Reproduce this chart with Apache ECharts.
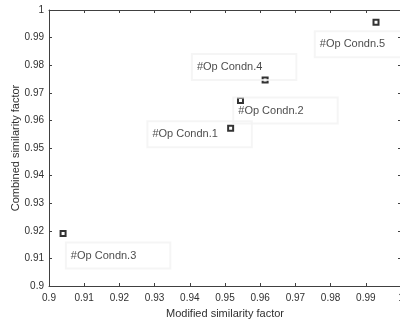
<!DOCTYPE html>
<html><head><meta charset="utf-8">
<script src="https://cdn.jsdelivr.net/npm/echarts@6/dist/echarts.min.js"></script>
<style>html,body{margin:0;padding:0;background:#fff}#c{width:400px;height:324px}</style>
</head><body><div id="c"></div>
<script>
var labels = ['#Op Condn.1', '#Op Condn.2', '#Op Condn.3', '#Op Condn.4', '#Op Condn.5'];
var modifiedSF = [0.9516, 0.9544, 0.9040, 0.9614, 0.9929];
var combinedSF = [0.9572, 0.9672, 0.9190, 0.9746, 0.9956];
var xTicks = { min: 0.9, max: 1, step: 0.01 };
var yTicks = { min: 0.9, max: 1, step: 0.01 };
var labelOffsets = [[-31, 6], [45, 10], [55, 22], [-21, -13], [-9, 22]];

var FONT = '"Liberation Sans", Arial, sans-serif';
var AX = '#404040';
var data = labels.map(function (n, i) {
  return {
    name: n,
    value: [modifiedSF[i], combinedSF[i]],
    label: { offset: labelOffsets[i] }
  };
});
function baseAxis(t) {
  return {
    type: 'value', min: t.min, max: t.max, interval: t.step,
    splitLine: { show: false },
    axisLine: { lineStyle: { color: AX, width: 1 } },
    axisTick: { inside: true, length: 3, lineStyle: { color: AX } },
    axisLabel: { color: '#303030', fontSize: 10, fontFamily: FONT }
  };
}
var x1 = baseAxis(xTicks);
x1.position = 'bottom';
x1.name = 'Modified similarity factor';
x1.nameLocation = 'middle';
x1.nameGap = 22;
x1.nameMoveOverlap = false;
x1.nameTextStyle = { color: '#303030', fontSize: 11, fontFamily: FONT };
x1.axisLabel.margin = 7;
var x2 = baseAxis(xTicks);
x2.position = 'top';
x2.axisLabel = { show: false };
var y1 = baseAxis(yTicks);
y1.position = 'left';
y1.name = 'Combined similarity factor';
y1.nameLocation = 'middle';
y1.nameGap = 28;
y1.nameMoveOverlap = false;
y1.nameTextStyle = { color: '#303030', fontSize: 11, fontFamily: FONT };
y1.axisLabel.margin = 5;
var y2 = baseAxis(yTicks);
y2.position = 'right';
y2.axisLabel = { show: false };

var chart = echarts.init(document.getElementById('c'), null, { renderer: 'canvas' });
chart.setOption({
  animation: false,
  backgroundColor: '#ffffff',
  grid: { left: 49, right: -1, top: 10, bottom: 38, containLabel: false, outerBoundsMode: 'none' },
  xAxis: [x1, x2],
  yAxis: [y1, y2],
  series: [{
    type: 'scatter',
    xAxisIndex: 0, yAxisIndex: 0,
    symbol: 'rect', symbolSize: 5,
    itemStyle: { color: '#ffffff', borderColor: '#000000', borderWidth: 2 },
    label: {
      show: true, position: 'inside',
      formatter: '{b}',
      color: '#1a1a1a', fontSize: 11, fontFamily: FONT,
      lineHeight: 12,
      padding: [7, 34, 7, 5],
      borderColor: '#f3f3f3', borderWidth: 1,
      backgroundColor: 'rgba(255,255,255,0)'
    },
    emphasis: { disabled: true },
    data: data
  }]
});
</script></body></html>
